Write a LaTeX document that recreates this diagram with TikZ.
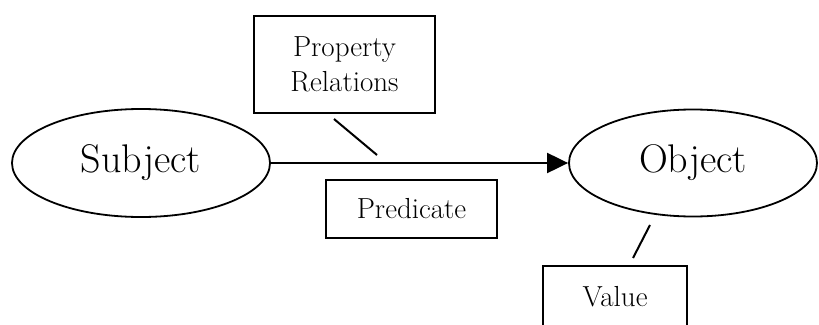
\documentclass[tikz,border=0pt]{standalone}
\usetikzlibrary{shapes.geometric,arrows.meta}
\begin{document}
\begin{tikzpicture}[x=1pt,y=-1pt,
  entity/.style={ellipse,draw,line width=1.8pt,inner sep=0pt,font=\fontsize{40}{44}\selectfont},
  tagbox/.style={draw,line width=2.4pt,inner sep=0pt,align=center,font=\fontsize{29}{35}\selectfont},
  link/.style={line width=2pt}]
\useasboundingbox (0,0) rectangle (819,324);
% entities
\node[entity,minimum width=258pt,minimum height=108pt] (subj) at (141,163) {Subject};
\node[entity,minimum width=248pt,minimum height=107pt] (obj) at (693,163) {Object};
% labels
\node[tagbox,minimum width=181pt,minimum height=97pt] (prop) at (344.5,64.5) {Property\\Relations};
\node[tagbox,minimum width=171pt,minimum height=58pt] (pred) at (411.5,209) {Predicate};
\node[tagbox,minimum width=144pt,minimum height=62pt] (val) at (615,297) {Value};
% predicate arrow
\draw[link,-{Triangle[length=21pt,width=20pt]}] (subj.east) -- (obj.west);
% short ticks
\coordinate (t1a) at (334,119);
\coordinate (t1b) at (377,155);
\coordinate (t2a) at (650,225);
\coordinate (t2b) at (633,258);
\draw[link] (t1a) -- (t1b);
\draw[link] (t2a) -- (t2b);
\end{tikzpicture}
\end{document}
